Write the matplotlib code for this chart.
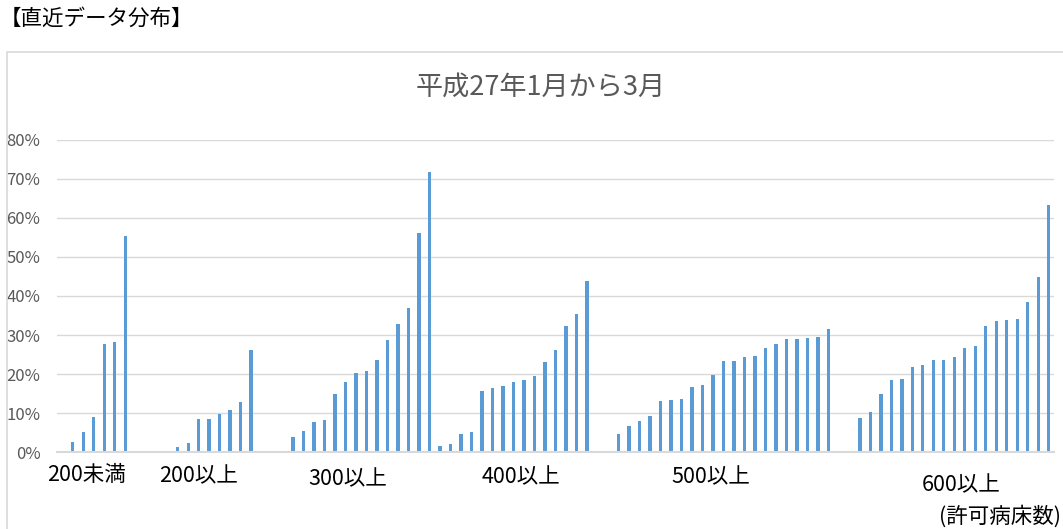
"""Share distribution by licensed-bed band, Jan-Mar H27 (one bar per hospital)."""
import numpy as np
import matplotlib
matplotlib.use("Agg")
import matplotlib.pyplot as plt
from matplotlib.patches import Rectangle
from matplotlib.ticker import PercentFormatter
from matplotlib.transforms import blended_transform_factory

plt.rcParams["font.family"] = ["Noto Sans CJK JP", "DejaVu Sans"]

HEADING = "【直近データ分布】"
TITLE = "平成27年1月から3月"
UNIT_LABEL = "(許可病床数)"

# one value per category slot; None = blank slot separating the bands
rates = [
    None,
    2.6, 5.3, 9.0, 27.6, 28.1, 55.3,
    None, None, None,
    0.3, 1.4, 2.5, 8.5, 8.6, 9.7, 10.8, 12.9, 26.2,
    None, None, None,
    4.0, 5.4, 7.8, 8.2, 15.0, 18.0, 20.3, 20.7, 23.6, 28.7, 32.9, 37.0, 56.1, 71.8,
    1.7, 2.1, 4.7, 5.2, 15.6, 16.4, 17.0, 17.9, 18.4, 19.5, 23.0, 26.1, 32.3, 35.4, 43.8,
    None, None,
    4.6, 6.7, 7.9, 9.2, 13.0, 13.4, 13.6, 16.7, 17.1, 19.8, 23.3, 23.3, 24.5, 24.7,
    26.7, 27.6, 29.0, 29.0, 29.2, 29.6, 31.5,
    None, None,
    8.9, 10.4, 15.0, 18.6, 18.8, 21.9, 22.2, 23.6, 23.6, 24.4, 26.7, 27.2, 32.3,
    33.6, 33.9, 34.1, 38.5, 44.9, 63.3,
]
band_labels = ["200未満", "200以上", "300以上", "400以上", "500以上", "600以上"]

# where the band labels sit: x in category units, y in pixels from the top
band_x = [2.26, 12.94, 27.19, 43.73, 61.84, 85.68]
band_y = [475, 476, 479, 477, 477, 485]

BLUE = "#5B9BD5"
GRID = "#D9D9D9"
TICK = "#595959"

W, H = 1063, 529
fig = plt.figure(figsize=(W / 100, H / 100), dpi=100)

# chart frame (runs off the right and bottom edges)
fig.patches.append(Rectangle((7 / W, -0.1), 1.2, (H - 52) / H + 0.1,
                             transform=fig.transFigure, fill=False,
                             edgecolor=GRID, linewidth=1.2))

ax = fig.add_axes([57 / W, (H - 452.3) / H, (1054 - 57) / W, (452.3 - 139.5) / H])

vals = np.array([np.nan if v is None else v for v in rates], dtype=float) / 100
idx = np.arange(len(vals))
has = ~np.isnan(vals)
ax.bar(idx[has], vals[has], width=0.32, color=BLUE, zorder=3)

ax.set_xlim(-0.5, len(vals) - 0.5)
ax.set_ylim(0, 0.8)
ax.set_yticks(np.arange(0, 0.81, 0.1))
ax.yaxis.set_major_formatter(PercentFormatter(1.0, decimals=0))
ax.tick_params(axis="y", length=0, labelsize=12, labelcolor=TICK, pad=12)
ax.set_xticks([])
ax.grid(axis="y", color=GRID, linewidth=1.0, zorder=0)
for side in ("top", "right", "left"):
    ax.spines[side].set_visible(False)
ax.spines["bottom"].set_color(GRID)
ax.spines["bottom"].set_linewidth(1.5)
ax.spines["bottom"].set_zorder(4)

tr = blended_transform_factory(ax.transData, fig.transFigure)
for lbl, x, y in zip(band_labels, band_x, band_y):
    ax.text(x, 1 - y / H, lbl, transform=tr, ha="center", va="center",
            fontsize=15.5, color="black")
ax.text(89.4, 1 - 516.5 / H, UNIT_LABEL, transform=tr, ha="center",
        va="center", fontsize=15.5, color="black")

fig.text(541 / W, 1 - 87 / H, TITLE, ha="center", va="center",
         fontsize=19.5, color=TICK)
fig.text(0.0, 1 - 19 / H, HEADING, ha="left", va="center",
         fontsize=15.5, color="black")

fig.savefig("out.png", dpi=100, facecolor="white")
